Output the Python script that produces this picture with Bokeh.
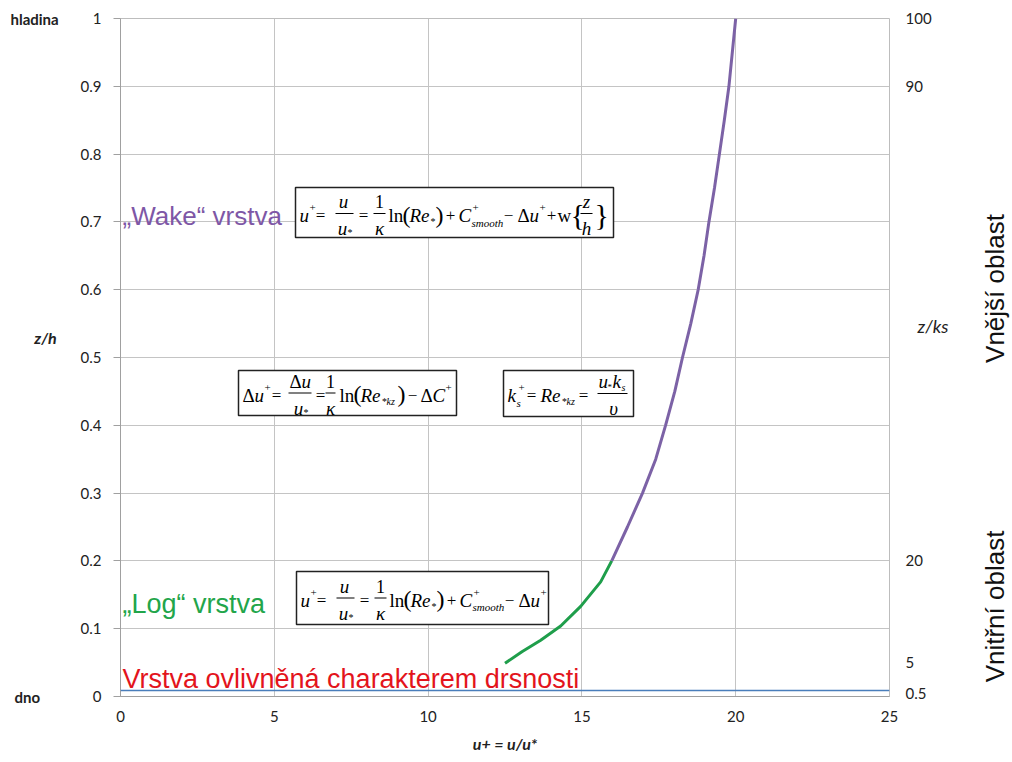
import math
from bokeh.plotting import figure
from bokeh.models import Label, BoxAnnotation, Span, LinearAxis, FixedTicker, NumeralTickFormatter
from bokeh.core.properties import value
from bokeh.embed import file_html
from bokeh.resources import INLINE

# ---------------- data ----------------
log_u = [12.50, 13.05, 13.66, 14.31, 14.96, 15.61, 15.97]
log_z = [0.049, 0.066, 0.083, 0.104, 0.133, 0.169, 0.200]
wake_u = [15.97, 16.48, 16.97, 17.40, 17.72, 18.02, 18.27, 18.54, 18.78, 18.97, 19.13, 19.31, 19.47, 19.63, 19.78, 20.00]
wake_z = [0.20, 0.25, 0.30, 0.35, 0.40, 0.45, 0.50, 0.55, 0.60, 0.65, 0.70, 0.75, 0.80, 0.85, 0.90, 1.00]
x_ticks = [0, 5, 10, 15, 20, 25]
y_ticks = [0, 0.1, 0.2, 0.3, 0.4, 0.5, 0.6, 0.7, 0.8, 0.9, 1.0]
ks_ticks = [0.005, 0.05, 0.2, 0.9, 1.0]
ks_labels = ["0.5", "5", "20", "90", "100"]
rough_top = 0.009

# ---------------- layout ----------------
W, H = 1012, 762
L, R, T, B = 120, 123, 18, 66
FW, FH = W - L - R, H - T - B
XMAX, YMAX = 25.0, 1.0


def px2x(px):
    return (px - L) / FW * XMAX


def px2y(py):
    return (H - B - py) / FH * YMAX


p = figure(width=W, height=H, x_range=(0, XMAX), y_range=(0, YMAX),
           output_backend="svg", toolbar_location=None,
           min_border_left=L, min_border_right=R, min_border_top=T, min_border_bottom=B)
p.background_fill_color = "white"
p.border_fill_color = "white"
p.outline_line_color = "#bdbdbd"

GRID = "#c4c4c4"
TICKFONT = "Lato"
p.xgrid.ticker = FixedTicker(ticks=x_ticks)
p.ygrid.ticker = FixedTicker(ticks=y_ticks)
p.xgrid.grid_line_color = GRID
p.ygrid.grid_line_color = GRID

p.xaxis.ticker = FixedTicker(ticks=x_ticks)
p.xaxis.axis_line_color = "#a0a0a0"
p.xaxis.major_tick_out = 0
p.xaxis.major_tick_in = 0
p.xaxis.minor_tick_line_color = None
p.xaxis.major_label_standoff = 14
p.xaxis.major_label_text_font = TICKFONT
p.xaxis.major_label_text_font_size = "15px"
p.xaxis.major_label_text_color = "#222222"
p.xaxis.axis_label = "u+ = u/u*"
p.xaxis.axis_label_text_font = TICKFONT
p.xaxis.axis_label_text_font_size = "16px"
p.xaxis.axis_label_text_font_style = "bold italic"
p.xaxis.axis_label_text_color = "#222222"
p.xaxis.axis_label_standoff = 9

p.yaxis.ticker = FixedTicker(ticks=y_ticks)
p.yaxis.formatter = NumeralTickFormatter(format="0.[0]")
p.yaxis.axis_line_color = "#a0a0a0"
p.yaxis.major_tick_line_color = "#a0a0a0"
p.yaxis.major_tick_out = 7
p.yaxis.major_tick_in = 0
p.yaxis.minor_tick_line_color = None
p.yaxis.major_label_standoff = 12
p.yaxis.major_label_text_font = TICKFONT
p.yaxis.major_label_text_font_size = "15px"
p.yaxis.major_label_text_color = "#222222"

ra = LinearAxis(ticker=FixedTicker(ticks=ks_ticks),
                major_label_overrides=dict(zip(ks_ticks, ks_labels)))
ra.axis_line_color = None
ra.major_tick_line_color = None
ra.minor_tick_line_color = None
ra.major_tick_out = 0
ra.major_tick_in = 0
ra.major_label_standoff = 16
ra.major_label_text_font = TICKFONT
ra.major_label_text_font_size = "15px"
ra.major_label_text_color = "#222222"
p.add_layout(ra, "right")

# ---------------- curves ----------------
p.line(log_u, log_z, line_color="#1f9e4b", line_width=3)
p.line(wake_u, wake_z, line_color="#7c62a6", line_width=3)

p.add_layout(Span(location=rough_top, dimension="width", line_color="#4a7ebb", line_width=1.5))


# ---------------- labels ----------------
def lab(x, y, text, dx=0, dy=0, size=15, font=TICKFONT, style="normal", color="#222222",
        align="left", angle=0.0):
    p.add_layout(Label(x=x, y=y, x_offset=dx, y_offset=dy, text=text, text_font=font,
                       text_font_size=f"{size}px", text_font_style=style, text_color=color,
                       text_align=align, text_baseline="middle", angle=angle))


def olab(x, y, text, dx=0, size=15, font=TICKFONT, style="normal", color="#222222",
         align="left", angle=0.0):
    # text anchored on the frame edge and shifted outward; drawn on the overlay level
    p.text(x=[x], y=[y], text=[text], x_offset=dx, angle=angle,
           text_font=value(font), text_font_size=f"{size}px", text_font_style=style,
           text_color=color, text_align=align, text_baseline="middle", level="overlay")


olab(0, 1.0, "hladina", dx=-110, size=15, style="bold")
olab(0, 0.0, "dno", dx=-106, size=15, style="bold")
olab(0, px2y(337), "z/h", dx=-75, size=16, style="bold italic", align="center")
olab(XMAX, px2y(325), "z/ks", dx=28, size=18, style="italic")
olab(XMAX, px2y(288), "Vnější oblast", dx=105, size=26, font="Liberation Sans",
     color="#111111", align="center", angle=math.pi / 2)
olab(XMAX, px2y(606), "Vnitřní oblast", dx=105, size=26, font="Liberation Sans",
     color="#111111", align="center", angle=math.pi / 2)

lab(0, px2y(215), "\u201eWake\u201c vrstva", dx=2, size=26, font="Liberation Sans", color="#7e57a6")
lab(0, px2y(603), "\u201eLog\u201c vrstva", dx=2, size=27, font="Liberation Sans", color="#22a54a")
lab(0, px2y(678), "Vrstva ovlivněná charakterem drsnosti", dx=2, size=27,
    font="Liberation Sans", color="#e3141c")

# ---------------- formula boxes ----------------
SERIF = "Liberation Serif"
N, I = "normal", "italic"


def formula(x0, ytop, w, h, main_dy, tokens):
    p.add_layout(BoxAnnotation(left=px2x(x0), right=px2x(x0 + w), top=px2y(ytop),
                               bottom=px2y(ytop + h), fill_color="white", fill_alpha=1.0,
                               line_color="#222222", line_width=1.5, line_alpha=1.0))
    yc = ytop + h / 2.0 + main_dy
    for t in tokens:
        if t[0] == "bar":
            _, a, b, dy = t
            p.add_layout(BoxAnnotation(left=px2x(x0 + a), right=px2x(x0 + b),
                                       top=px2y(yc - dy - 0.5), bottom=px2y(yc - dy + 0.5),
                                       fill_color="black", fill_alpha=1.0, line_color=None))
        else:
            dx, dy, text, size, style, align = t
            p.add_layout(Label(x=px2x(x0), y=px2y(yc), x_offset=dx, y_offset=dy, text=text,
                               text_font=SERIF, text_font_size=f"{size}px",
                               text_font_style=style, text_align=align,
                               text_baseline="middle", text_color="black"))


common = [
    (4, 0, "u", 19, I, "left"),
    (14, 8, "+", 11, N, "left"),
    (25, 0, "=", 17, N, "center"),
    (48, 14, "u", 19, I, "center"),
    (47, -13, "u", 19, I, "center"),
    (52, -17, "*", 10, N, "left"),
    ("bar", 40, 58, 2),
    (68, 0, "=", 17, N, "center"),
    (84, 14, "1", 18, N, "center"),
    (84, -13, "κ", 19, I, "center"),
    ("bar", 78, 90, 2),
    (93, 0, "ln", 19, N, "left"),
    (107, 1, "(", 24, N, "left"),
    (114, 0, "Re", 19, I, "left"),
    (135, -6, "*", 10, N, "left"),
    (140, 1, ")", 24, N, "left"),
    (155, 0, "+", 17, N, "center"),
    (163, 0, "C", 19, I, "left"),
    (177, 8, "+", 11, N, "left"),
    (176, -7, "smooth", 11, I, "left"),
    (213, 0, "\u2212", 17, N, "center"),
    (222, 0, "Δ", 19, N, "left"),
    (234, 0, "u", 19, I, "left"),
    (244, 8, "+", 11, N, "left"),
]
wake_extra = [
    (256, 0, "+", 17, N, "center"),
    (262, 0, "w", 19, N, "left"),
    (275, 1, "{", 30, N, "left"),
    (291, 14, "z", 19, I, "center"),
    (291, -13, "h", 19, I, "center"),
    ("bar", 285, 297, 2),
    (299, 1, "}", 30, N, "left"),
]
formula(295, 187, 318, 50, 3, common + wake_extra)
formula(296, 571, 252, 53, 2, common)

du_tokens = [
    (4, 0, "Δ", 19, N, "left"),
    (16, 0, "u", 19, I, "left"),
    (26, 8, "+", 11, N, "left"),
    (38, 0, "=", 17, N, "center"),
    (51, 14, "Δ", 19, N, "left"),
    (63, 14, "u", 19, I, "left"),
    (60, -13, "u", 19, I, "center"),
    (65, -17, "*", 10, N, "left"),
    ("bar", 50, 73, 2),
    (82, 0, "=", 17, N, "center"),
    (92, 14, "1", 18, N, "center"),
    (92, -13, "κ", 19, I, "center"),
    ("bar", 87, 97, 2),
    (101, 0, "ln", 19, N, "left"),
    (115, 1, "(", 24, N, "left"),
    (122, 0, "Re", 19, I, "left"),
    (143, -6, "*kz", 10, I, "left"),
    (159, 1, ")", 24, N, "left"),
    (174, 0, "\u2212", 17, N, "center"),
    (182, 0, "Δ", 19, N, "left"),
    (194, 0, "C", 19, I, "left"),
    (207, 8, "+", 11, N, "left"),
]
formula(238, 370, 218, 45, 2, du_tokens)

ks_tokens = [
    (4, 0, "k", 19, I, "left"),
    (13, -7, "s", 11, I, "left"),
    (15, 8, "+", 11, N, "left"),
    (28, 0, "=", 17, N, "center"),
    (37, 0, "Re", 19, I, "left"),
    (58, -6, "*kz", 10, I, "left"),
    (80, 0, "=", 17, N, "center"),
    (95, 14, "u", 19, I, "left"),
    (104, 9, "*", 9, N, "left"),
    (109, 14, "k", 19, I, "left"),
    (118, 8, "s", 10, I, "left"),
    (110, -13, "υ", 19, I, "center"),
    ("bar", 94, 124, 2),
]
formula(503, 370, 130, 46, 2, ks_tokens)

open("out.html", "w").write(file_html(p, INLINE))
